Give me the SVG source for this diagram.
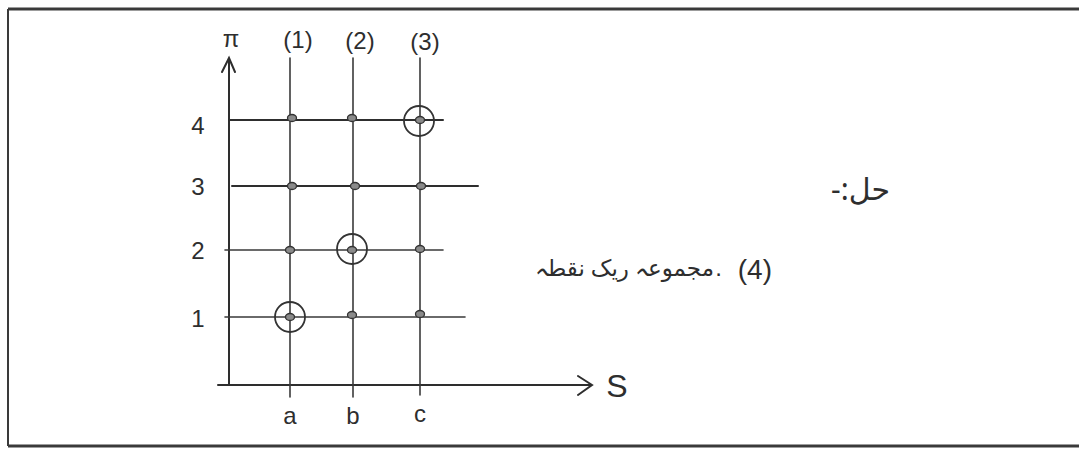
<svg xmlns="http://www.w3.org/2000/svg" width="1079" height="451" viewBox="0 0 1079 451">
<defs>
<style>
.ln{stroke:#3a3a3a;stroke-width:1.6;fill:none;stroke-linecap:round}
.ax{stroke:#2e2e2e;stroke-width:2;fill:none;stroke-linecap:round}
.dot{fill:#8a8a8a;stroke:#333;stroke-width:1.3}
.ring{fill:none;stroke:#333;stroke-width:1.8}
.t{font-family:"Liberation Sans","DejaVu Sans",sans-serif;font-size:24px;fill:#2e2e2e}
.u{font-family:"Noto Sans","DejaVu Sans",sans-serif;font-size:23px;fill:#2e2e2e}
</style>
</defs>
<rect width="1079" height="451" fill="#ffffff"/>
<g id="frame">
<line x1="8" y1="9" x2="1079" y2="9" stroke="#3a3a3a" stroke-width="3"/>
<line x1="8" y1="446" x2="1079" y2="446" stroke="#3a3a3a" stroke-width="3"/>
<line x1="8" y1="9" x2="8" y2="446" stroke="#3a3a3a" stroke-width="2"/>
</g>
<g id="connectors">
<path class="ax" d="M229 385 V60 M222 72 L229 58 L235 72"/>
<path class="ax" d="M218 385 H590 M578 376 L592 385 L578 395"/>
<line class="ln" x1="290" y1="58" x2="290" y2="397"/>
<line class="ln" x1="353" y1="58" x2="353" y2="397"/>
<line class="ln" x1="420" y1="58" x2="420" y2="395"/>
<line class="ax" x1="229" y1="120" x2="443" y2="120"/>
<line class="ax" x1="232" y1="186" x2="478" y2="186"/>
<line class="ln" x1="225" y1="250" x2="443" y2="250"/>
<line class="ln" x1="225" y1="317" x2="465" y2="317"/>
</g>
<g id="points">
<ellipse class="dot" cx="292" cy="118" rx="4.5" ry="3.5"/>
<ellipse class="dot" cx="352" cy="118" rx="4.5" ry="3.5"/>
<ellipse class="dot" cx="420" cy="120" rx="4.5" ry="3.5"/>
<circle class="ring" cx="419" cy="121" r="15"/>
<ellipse class="dot" cx="292" cy="186" rx="4.5" ry="3.5"/>
<ellipse class="dot" cx="355" cy="186" rx="4.5" ry="3.5"/>
<ellipse class="dot" cx="421" cy="186" rx="4.5" ry="3.5"/>
<ellipse class="dot" cx="290" cy="250" rx="4.5" ry="3.5"/>
<ellipse class="dot" cx="352" cy="250" rx="4.5" ry="3.5"/>
<circle class="ring" cx="352" cy="249" r="15"/>
<ellipse class="dot" cx="420" cy="249" rx="4.5" ry="3.5"/>
<ellipse class="dot" cx="290" cy="317" rx="4.5" ry="3.5"/>
<circle class="ring" cx="290" cy="317" r="15"/>
<ellipse class="dot" cx="352" cy="315" rx="4.5" ry="3.5"/>
<ellipse class="dot" cx="420" cy="314" rx="4.5" ry="3.5"/>
</g>
<g id="labels">
<text class="t" x="231" y="47" text-anchor="middle">π</text>
<text class="t" x="298" y="48" text-anchor="middle">(1)</text>
<text class="t" x="360" y="49" text-anchor="middle">(2)</text>
<text class="t" x="425" y="50" text-anchor="middle">(3)</text>
<text class="t" x="198" y="134" text-anchor="middle">4</text>
<text class="t" x="198" y="195" text-anchor="middle">3</text>
<text class="t" x="198" y="259" text-anchor="middle">2</text>
<text class="t" x="198" y="327" text-anchor="middle">1</text>
<text class="t" x="290" y="424" text-anchor="middle">a</text>
<text class="t" x="353" y="424" text-anchor="middle">b</text>
<text class="t" x="420" y="422" text-anchor="middle">c</text>
<text class="t" x="617" y="397" text-anchor="middle" style="font-size:32px">S</text>
</g>
<g id="notes">
<text class="u" x="890" y="200" text-anchor="end" style="font-size:30px">-:حل</text>
<text class="t" x="772" y="279" text-anchor="end" style="font-size:28px">(4)</text>
<text class="t" x="722" y="276" text-anchor="end">.</text>
<text class="u" x="714" y="276" text-anchor="end" style="font-size:23px">مجموعہ ریک نقطہ</text>
</g>
</svg>
